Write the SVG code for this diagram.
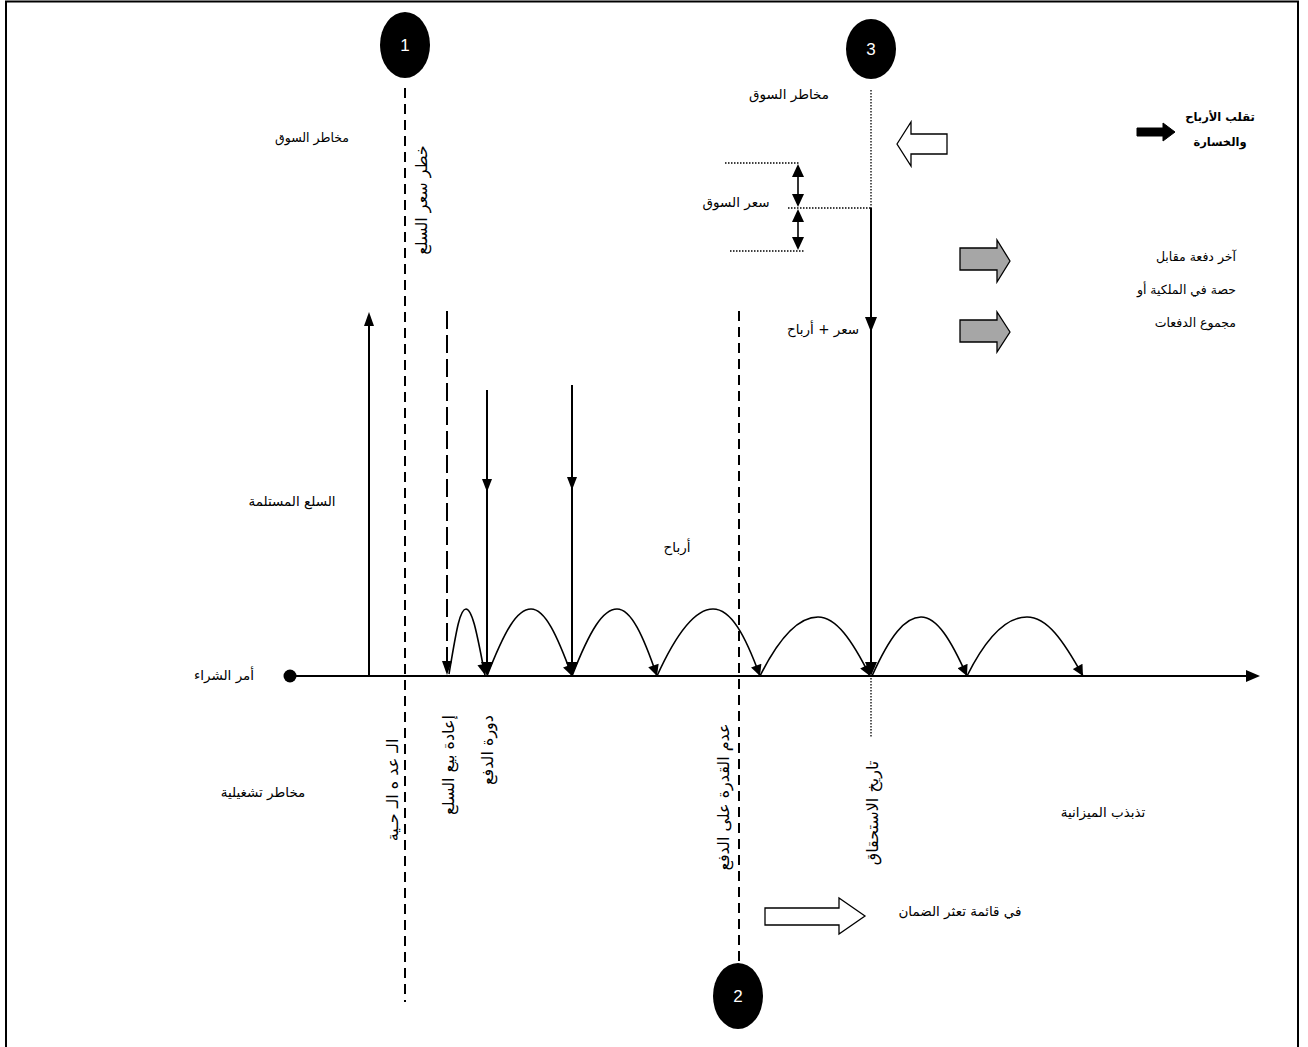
<svg xmlns="http://www.w3.org/2000/svg" width="1308" height="1047" viewBox="0 0 1308 1047">
<style>
.t{font-family:"DejaVu Sans","Noto Sans",sans-serif;font-size:13.5px;fill:#000}
.ts{font-family:"DejaVu Sans","Noto Sans",sans-serif;font-size:12.5px;fill:#000}
.tv{font-family:"DejaVu Sans","Noto Sans",sans-serif;font-size:16px;fill:#000}
.tb{font-family:"DejaVu Sans","Noto Sans",sans-serif;font-size:11.5px;font-weight:bold;fill:#000}
.num{font-family:"Liberation Sans",Arial,sans-serif;font-size:17px;fill:#fff}
.dash{stroke:#000;stroke-width:2;stroke-dasharray:10,6;fill:none}
.dot{stroke:#000;stroke-width:1.3;stroke-dasharray:1.5,1.5;fill:none}
.ln{stroke:#000;stroke-width:2;fill:none}
.arc{stroke:#000;stroke-width:1.6;fill:none;marker-end:url(#ah)}
.head{fill:#000}
.blk{fill:#000;stroke:#000}
.wht{fill:#fff;stroke:#000;stroke-width:1.3}
.gry{fill:#a6a6a6;stroke:#000;stroke-width:1.3}
</style>
<defs>
<marker id="ah" viewBox="0 0 10 10" refX="10" refY="5" markerWidth="13" markerHeight="11" markerUnits="userSpaceOnUse" orient="auto">
<path d="M0,0 L10,5 L0,10 z" fill="#000"/>
</marker>
</defs>
<rect x="6" y="1.5" width="1292" height="1050" fill="#fff" stroke="#000" stroke-width="2"/>

<g id="connectors">
<line class="ln" x1="290" y1="676" x2="1248" y2="676"/>
<polygon class="head" points="1260,676 1246,670 1246,682"/>
<line class="ln" x1="369" y1="676" x2="369" y2="322"/>
<polygon class="head" points="369,312 364,326 374,326"/>
<line class="dash" x1="405" y1="88" x2="405" y2="1002"/>
<line class="dash" x1="447" y1="311" x2="447" y2="662" style="stroke-dasharray:18,6"/>
<polygon class="head" points="447,675 442,661 452,661"/>
<line class="dash" x1="739" y1="311" x2="739" y2="962"/>
<line class="ln" x1="487" y1="390" x2="487" y2="664"/>
<polygon class="head" points="487,492 482,479 492,479"/>
<polygon class="head" points="487,676 481,662 493,662"/>
<line class="ln" x1="572" y1="385" x2="572" y2="664"/>
<polygon class="head" points="572,490 567,477 577,477"/>
<polygon class="head" points="572,676 566,662 578,662"/>
<line class="dot" x1="871" y1="90" x2="871" y2="208"/>
<line class="ln" x1="871" y1="208" x2="871" y2="664"/>
<polygon class="head" points="871,332 865,317 877,317"/>
<polygon class="head" points="871,676 865,662 877,662"/>
<line class="dot" x1="871" y1="678" x2="871" y2="738"/>
<line class="dot" x1="725" y1="163" x2="800" y2="163"/>
<line class="dot" x1="788" y1="208" x2="871" y2="208"/>
<line class="dot" x1="730" y1="251" x2="805" y2="251"/>
<line class="ln" x1="798" y1="170" x2="798" y2="201" style="stroke-width:1.6"/>
<polygon class="head" points="798,164 792,177 804,177"/>
<polygon class="head" points="798,207 792,194 804,194"/>
<line class="ln" x1="798" y1="215" x2="798" y2="244" style="stroke-width:1.6"/>
<polygon class="head" points="798,209 792,222 804,222"/>
<polygon class="head" points="798,250 792,237 804,237"/>
<path class="arc" d="M449,674 C455,640 459,609 466,609 C473,609 478,640 485,675"/>
<path class="arc" d="M487,676 C505,630 517,609 531,609 C545,609 557,635 572,676"/>
<path class="arc" d="M572,676 C590,630 603,609 617,609 C631,609 643,635 657,676"/>
<path class="arc" d="M657,676 C677,632 695,609 713,609 C731,609 745,635 760,676"/>
<path class="arc" d="M760,676 C780,636 800,617 818,617 C836,617 852,640 870,676"/>
<path class="arc" d="M872,676 C890,636 905,617 921,617 C937,617 951,640 967,676"/>
<path class="arc" d="M967,676 C987,636 1007,617 1027,617 C1047,617 1063,640 1083,676"/>
<circle cx="290" cy="676" r="6.5" fill="#000"/>
</g>

<g id="node-1">
<ellipse cx="405" cy="45" rx="25" ry="33" fill="#000"/>
<text class="num" x="405" y="51" text-anchor="middle">1</text>
</g>
<g id="node-2">
<ellipse cx="738" cy="996" rx="25" ry="33" fill="#000"/>
<text class="num" x="738" y="1002" text-anchor="middle">2</text>
</g>
<g id="node-3">
<ellipse cx="871" cy="49" rx="25" ry="30" fill="#000"/>
<text class="num" x="871" y="55" text-anchor="middle">3</text>
</g>

<g id="arrow-shapes">
<polygon class="wht" points="897,144 911,122 911,134 947,134 947,154 911,154 911,166"/>
<polygon class="blk" points="1175,132 1163,123 1163,128 1137,128 1137,136 1163,136 1163,141"/>
<polygon class="gry" points="1010,261 997,240 997,248 960,248 960,270 997,270 997,282"/>
<polygon class="gry" points="1010,332 997,312 997,320 960,320 960,342 997,342 997,352"/>
<polygon class="wht" points="865,916 839,898 839,908 765,908 765,925 839,925 839,934"/>
</g>

<g id="labels">
<text class="ts" x="312" y="142" text-anchor="middle">مخاطر السوق</text>
<text class="t" x="789" y="99" text-anchor="middle">مخاطر السوق</text>
<text class="t" x="736" y="207" text-anchor="middle">سعر السوق</text>
<text class="t" x="823" y="334" text-anchor="middle">سعر + أرباح</text>
<text class="tb" x="1220" y="121" text-anchor="middle">تقلب الأرباح</text>
<text class="tb" x="1220" y="146" text-anchor="middle">والخسارة</text>
<text class="ts" x="1236" y="261" text-anchor="end">آخر دفعة مقابل</text>
<text class="ts" x="1236" y="294" text-anchor="end">حصة في الملكية أو</text>
<text class="ts" x="1236" y="327" text-anchor="end">مجموع الدفعات</text>
<text class="t" x="292" y="506" text-anchor="middle">السلع المستلمة</text>
<text class="t" x="677" y="552" text-anchor="middle">أرباح</text>
<text class="t" x="224" y="680" text-anchor="middle">أمر الشراء</text>
<text class="t" x="263" y="797" text-anchor="middle">مخاطر تشغيلية</text>
<text class="t" x="1103" y="817" text-anchor="middle">تذبذب الميزانية</text>
<text class="t" x="960" y="916" text-anchor="middle">في قائمة تعثر الضمان</text>
<text class="tv" transform="translate(427,200) rotate(-90)" text-anchor="middle">خطر سعر السلع</text>
<text class="tv" transform="translate(398,790) rotate(-90)" text-anchor="middle">الـ عد ه الـ حـية</text>
<text class="tv" transform="translate(454,765) rotate(-90)" text-anchor="middle">إعادة بيع السلع</text>
<text class="tv" transform="translate(493,750) rotate(-90)" text-anchor="middle">دورة الدفع</text>
<text class="tv" transform="translate(729,797) rotate(-90)" text-anchor="middle">عدم القدرة على الدفع</text>
<text class="tv" transform="translate(878,813) rotate(-90)" text-anchor="middle">تاريخ الاستحقاق</text>
</g>
</svg>
